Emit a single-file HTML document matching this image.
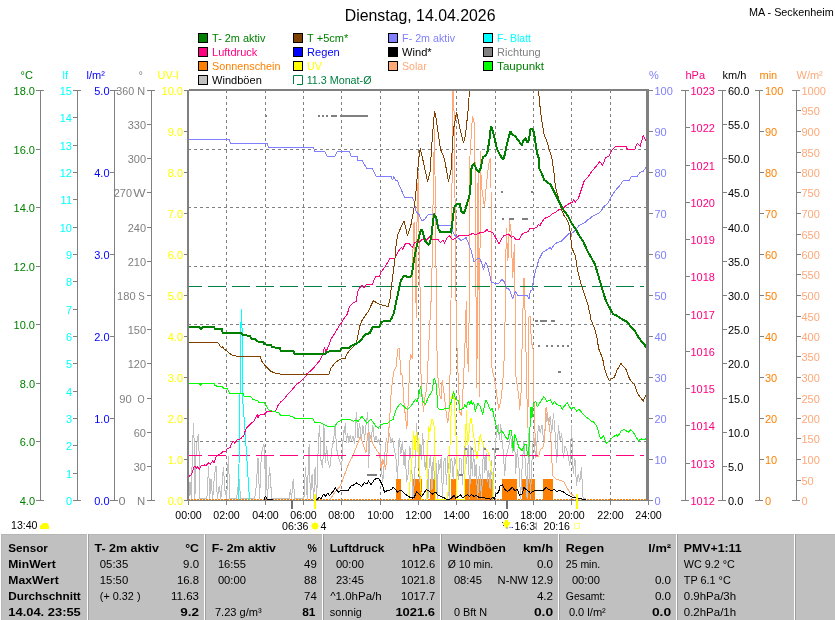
<!DOCTYPE html>
<html><head><meta charset="utf-8"><title>Wetter Dienstag, 14.04.2026</title>
<style>html,body{margin:0;padding:0;background:#fff;width:835px;height:620px;overflow:hidden}svg{display:block}text{white-space:pre}</style>
</head><body>
<svg width="835" height="620" viewBox="0 0 835 620" font-family="'Liberation Sans', Arial, sans-serif" font-size="11">
<defs><clipPath id="pc"><rect x="189" y="91" width="457" height="409.5"/></clipPath></defs>
<rect width="835" height="620" fill="#fff"/>
<line x1="226.5" y1="90" x2="226.5" y2="500" stroke="#808080" stroke-dasharray="3,3"/>
<line x1="265.5" y1="90" x2="265.5" y2="500" stroke="#808080" stroke-dasharray="3,3"/>
<line x1="303.5" y1="90" x2="303.5" y2="500" stroke="#808080" stroke-dasharray="3,3"/>
<line x1="341.5" y1="90" x2="341.5" y2="500" stroke="#808080" stroke-dasharray="3,3"/>
<line x1="380.5" y1="90" x2="380.5" y2="500" stroke="#808080" stroke-dasharray="3,3"/>
<line x1="418.5" y1="90" x2="418.5" y2="500" stroke="#808080" stroke-dasharray="3,3"/>
<line x1="456.5" y1="90" x2="456.5" y2="500" stroke="#808080" stroke-dasharray="3,3"/>
<line x1="495.5" y1="90" x2="495.5" y2="500" stroke="#808080" stroke-dasharray="3,3"/>
<line x1="533.5" y1="90" x2="533.5" y2="500" stroke="#808080" stroke-dasharray="3,3"/>
<line x1="571.5" y1="90" x2="571.5" y2="500" stroke="#808080" stroke-dasharray="3,3"/>
<line x1="610.5" y1="90" x2="610.5" y2="500" stroke="#808080" stroke-dasharray="3,3"/>
<line x1="188" y1="149.5" x2="646" y2="149.5" stroke="#808080" stroke-dasharray="3,3"/>
<line x1="188" y1="207.5" x2="646" y2="207.5" stroke="#808080" stroke-dasharray="3,3"/>
<line x1="188" y1="266.5" x2="646" y2="266.5" stroke="#808080" stroke-dasharray="3,3"/>
<line x1="188" y1="324.5" x2="646" y2="324.5" stroke="#808080" stroke-dasharray="3,3"/>
<line x1="188" y1="383.5" x2="646" y2="383.5" stroke="#808080" stroke-dasharray="3,3"/>
<line x1="188" y1="441.5" x2="646" y2="441.5" stroke="#808080" stroke-dasharray="3,3"/>
<g clip-path="url(#pc)" shape-rendering="crispEdges">
<line x1="188" y1="499.5" x2="646" y2="499.5" stroke="#ff8000" stroke-dasharray="1.5,1.5"/>
<rect x="396.3" y="479" width="4.9" height="21" fill="#ff8000"/>
<rect x="412.2" y="479" width="9.3" height="21" fill="#ff8000"/>
<rect x="430.3" y="479" width="5.9" height="21" fill="#ff8000"/>
<rect x="451.4" y="479" width="5.0" height="21" fill="#ff8000"/>
<rect x="465.0" y="479" width="27.9" height="21" fill="#ff8000"/>
<rect x="502.2" y="479" width="14.4" height="21" fill="#ff8000"/>
<rect x="521.7" y="479" width="13.0" height="21" fill="#ff8000"/>
<rect x="543.2" y="479" width="9.7" height="21" fill="#ff8000"/>
<polyline points="188.8,498.8 190.0,482.3 191.3,498.8 192.6,441.2 193.8,423.0 194.9,498.8 196.2,449.4 197.5,437.9 198.7,433.7 199.9,498.8 204.5,498.8 206.9,498.8 208.6,465.8 209.7,498.8 211.0,479.0 212.7,498.8 214.3,477.4 216.0,465.8 217.3,498.8 219.3,485.6 220.9,498.8 223.4,467.5 225.0,490.5 226.7,498.8 228.3,456.0 230.0,498.8 231.6,498.8 234.1,498.8 236.6,498.8 239.0,479.0 240.7,498.8 254.7,498.8 256.3,485.6 258.0,457.6 259.6,498.8 261.3,454.3 262.9,447.7 263.7,444.4 264.5,446.1 265.7,498.8 266.0,456.0 267.3,498.8 269.6,467.5 271.8,498.8 289.0,498.8 290.4,488.9 291.5,498.8 293.2,479.0 294.8,498.8 303.9,498.8 305.5,467.5 307.2,498.8 309.1,444.4 310.4,498.8 312.1,474.1 313.7,498.8 315.1,467.5 316.7,498.8 318.3,444.4 319.5,424.7 321.1,462.6 322.8,467.5 323.9,424.7 325.3,462.6 326.6,446.1 328.2,462.6 329.9,467.5 331.8,449.4 333.5,441.2 335.1,426.3 336.8,449.4 338.4,457.6 340.1,462.6 341.7,467.5 343.4,432.9 345.8,423.0 344.0,432.9 345.3,424.7 346.5,442.8 347.6,432.9 348.9,442.8 350.3,434.6 351.4,441.2 353.1,436.2 354.7,444.4 356.3,412.3 358.0,437.9 359.6,423.0 361.3,441.2 362.9,424.7 364.6,439.5 366.2,423.0 367.9,412.3 368.7,467.5 369.5,432.9 371.2,439.5 372.8,424.7 374.5,441.2 376.1,436.2 377.7,442.8 378.9,439.5 380.2,446.1 381.5,469.1 382.7,482.3 383.8,469.1 385.2,449.4 386.5,437.9 387.6,446.1 389.3,432.9 390.9,442.8 392.6,437.9 394.2,449.4 395.9,457.6 397.5,479.0 399.1,437.9 400.8,454.3 402.4,441.2 404.1,465.8 405.2,449.4 406.6,482.3 408.2,474.1 409.8,446.1 411.5,462.6 413.1,498.8 414.8,474.1 416.4,423.0 418.1,449.4 419.7,482.3 420.0,444.0 421.3,460.0 422.6,433.0 424.0,455.0 425.3,470.0 426.6,455.0 428.0,499.0 429.3,460.0 430.6,456.0 432.0,490.0 433.2,457.0 434.5,480.0 435.8,457.0 437.2,499.0 438.5,460.0 439.8,470.0 441.2,457.0 442.5,499.0 443.8,462.0 445.2,458.0 446.5,485.0 447.8,456.0 449.1,499.0 450.5,460.0 451.8,458.0 453.2,480.0 454.5,457.0 455.8,463.0 457.2,470.0 458.5,480.0 459.8,458.0 461.2,459.0 462.5,485.0 463.8,458.0 465.0,446.5 466.3,463.7 468.3,445.1 469.6,499.4 471.0,446.5 472.3,475.6 473.6,450.4 474.9,476.9 476.2,463.7 477.6,499.4 479.6,466.3 481.5,499.4 483.5,446.5 484.8,472.9 486.2,453.1 487.5,482.2 488.8,470.3 490.1,488.8 491.5,459.7 492.8,499.4 494.1,466.3 495.4,442.5 496.7,433.2 498.1,424.0 499.4,439.8 500.7,424.0 502.0,439.8 503.4,453.1 504.7,475.6 506.0,457.0 508.7,446.5 510.6,435.9 512.6,453.1 514.6,437.2 515.6,474.0 517.3,449.4 518.9,465.8 520.6,498.7 522.2,465.8 523.9,441.1 525.5,465.8 527.1,498.7 528.8,432.9 530.4,498.7 532.1,457.6 533.7,432.9 535.4,457.6 537.0,441.1 538.7,424.7 540.3,432.9 542.0,424.7 543.6,441.1 545.2,429.6 546.9,413.2 548.5,424.7 550.2,416.5 551.8,432.9 553.5,413.2 555.1,432.9 556.8,462.5 558.4,424.7 560.1,441.1 561.7,432.9 563.3,457.6 565.0,446.1 566.6,449.4 568.3,457.6 569.9,465.8 571.6,424.7 573.2,474.0 574.9,457.6 576.5,485.6 578.2,474.0 579.8,482.3 581.4,467.5 583.1,498.7 585.6,498.7" fill="none" stroke="#c0c0c0" stroke-width="1" stroke-linejoin="miter" stroke-miterlimit="2"/>
<polyline points="330.0,499.5 335.5,491.4 340.6,485.5 344.0,476.2 349.1,462.6 352.5,456.7 357.5,444.0 360.1,437.2 361.8,440.6 366.0,452.5 367.7,433.9 369.4,433.0 372.8,444.0 377.0,450.8 379.6,454.2 381.2,469.4 382.9,459.2 385.6,469.6 388.3,438.1 390.2,410.3 391.3,390.0 393.7,371.9 396.1,367.0 397.7,349.3 399.4,348.5 400.2,363.8 401.0,375.1 401.8,373.5 402.6,379.9 404.1,404.7 406.9,428.8 407.8,410.3 408.8,388.0 409.8,362.2 410.6,354.1 412.3,359.0 412.5,292.0 413.3,224.0 414.6,222.0 415.2,270.0 416.4,318.0 417.1,209.0 418.4,172.0 419.2,250.0 419.8,271.0 420.6,330.0 421.1,383.2 422.7,402.8 423.6,412.1 424.5,399.1 426.8,388.0 428.4,352.5 430.8,304.1 431.6,294.5 433.4,180.0 434.5,129.0 435.5,220.0 436.5,313.8 437.3,371.9 438.1,378.3 439.7,395.0 441.2,399.1 442.1,380.0 443.7,390.0 445.9,410.3 447.7,423.3 449.6,406.6 451.0,300.9 452.3,150.0 452.8,85.0 453.6,85.0 454.5,141.0 455.8,288.0 456.6,336.4 457.4,359.0 459.8,412.1 461.6,415.8 462.6,397.3 464.7,354.1 466.3,300.9 467.1,354.1 468.7,371.9 469.5,250.0 470.0,155.7 471.6,129.9 472.4,116.2 474.0,121.9 474.8,152.5 475.6,188.0 476.1,321.9 476.9,387.7 477.5,250.0 478.1,171.9 478.9,260.0 479.4,396.6 480.0,250.0 480.5,150.9 481.3,188.0 482.1,190.0 484.5,207.4 486.1,188.0 488.5,165.4 490.2,158.2 491.0,188.0 491.8,367.0 493.4,375.1 494.7,379.7 498.7,409.5 501.1,399.0 502.7,382.9 503.9,363.8 504.7,344.5 505.5,288.0 506.3,228.3 507.9,260.6 509.5,220.3 511.1,231.5 512.7,278.3 514.4,244.5 515.2,309.0 516.0,376.7 518.9,397.4 519.7,409.5 521.3,389.4 522.4,326.7 524.0,278.0 525.6,328.3 526.5,380.0 526.9,394.2 527.7,428.1 528.5,374.8 528.9,317.0 530.5,316.2 531.3,344.5 532.9,344.5 533.7,371.9 534.2,418.4 535.4,439.5 537.0,456.8 538.7,455.9 540.3,449.4 542.8,447.7 544.4,441.1 546.1,406.6 547.7,416.5 549.4,426.3 551.0,441.1 552.6,475.7 555.9,479.0 560.9,480.6 564.2,482.3 567.5,488.8 570.7,493.8 574.0,496.2 577.3,498.7 580.0,499.5" fill="none" stroke="#ffa878" stroke-width="1" stroke-linejoin="miter" stroke-miterlimit="2"/>
<polyline points="409.0,500.0 410.0,482.0 411.5,465.0 412.5,451.0 413.4,430.6 414.2,437.0 415.0,450.0 415.8,436.0 416.6,432.0 417.6,452.0 418.4,438.0 419.5,470.0 420.5,482.0 421.5,500.0 426.0,500.0 427.0,480.0 428.0,440.0 428.8,426.4 429.8,432.2 431.0,424.0 432.2,418.7 433.2,421.6 434.2,427.4 434.7,440.0 435.5,482.0 436.0,500.0 447.7,499.3 450.5,434.4 451.5,398.0 452.7,393.6 454.2,399.1 456.1,438.1 457.0,499.3 464.4,499.3 466.3,410.3 467.5,445.0 468.3,440.0 470.5,418.4 471.3,418.4 472.9,431.3 475.3,445.8 476.9,458.7 478.5,447.4 480.2,434.5 481.8,440.9 484.2,447.4 488.2,452.3 489.8,460.3 491.5,468.4 493.0,480.0 494.0,499.3" fill="none" stroke="#ffff00" stroke-width="1" stroke-linejoin="miter" stroke-miterlimit="2"/>
<line x1="184" y1="286.5" x2="644" y2="286.5" stroke="#008040" stroke-dasharray="18,6"/>
<rect x="189" y="455" width="13" height="1" fill="#ff0080"/>
<rect x="208" y="455" width="18" height="1" fill="#ff0080"/>
<rect x="232" y="455" width="18" height="1" fill="#ff0080"/>
<rect x="256" y="455" width="18" height="1" fill="#ff0080"/>
<rect x="280" y="455" width="18" height="1" fill="#ff0080"/>
<rect x="304" y="455" width="42" height="1" fill="#ff0080"/>
<rect x="352" y="455" width="18" height="1" fill="#ff0080"/>
<rect x="376" y="455" width="18" height="1" fill="#ff0080"/>
<rect x="400" y="455" width="42" height="1" fill="#ff0080"/>
<rect x="448" y="455" width="42" height="1" fill="#ff0080"/>
<rect x="496" y="455" width="18" height="1" fill="#ff0080"/>
<rect x="520" y="455" width="18" height="1" fill="#ff0080"/>
<rect x="544" y="455" width="42" height="1" fill="#ff0080"/>
<rect x="592" y="455" width="18" height="1" fill="#ff0080"/>
<rect x="616" y="455" width="18" height="1" fill="#ff0080"/>
<rect x="640" y="455" width="4" height="1" fill="#ff0080"/>
<polyline points="188.0,139.3 229.0,139.3 230.5,143.4 267.0,143.4 268.5,147.4 313.6,147.4 314.5,151.9 325.0,151.9 327.0,156.1 335.0,156.1 337.0,151.9 349.5,151.9 351.0,156.1 357.0,156.1 358.0,160.5 362.0,160.5 366.8,168.3 372.0,168.3 376.4,176.5 391.0,176.5 392.5,180.0 393.9,176.5 396.0,181.0 397.0,180.0 404.5,197.3 412.3,197.3 413.9,200.9 416.3,212.2 418.7,213.8 421.9,221.1 424.4,219.5 428.4,214.6 434.0,213.8 435.6,220.3 438.9,225.5 451.0,225.5 453.4,233.0 455.8,236.6 459.0,238.5 461.3,240.6 466.1,237.7 468.1,242.6 471.0,250.3 473.9,261.9 476.8,259.0 479.7,258.1 482.6,265.8 483.5,269.7 485.5,261.9 487.4,265.8 489.4,273.5 491.3,282.3 495.2,283.2 499.0,283.2 501.9,279.4 503.9,281.3 506.8,288.1 509.5,289.6 512.7,299.3 515.2,291.2 517.6,295.3 527.3,295.3 528.9,299.3 530.5,290.4 531.9,291.0 532.9,283.2 534.8,273.5 536.8,266.8 538.7,260.0 542.6,252.3 544.5,251.3 547.4,249.4 550.3,247.4 551.3,249.4 554.2,244.5 557.1,242.6 561.0,241.6 563.9,238.7 565.8,236.8 568.7,233.9 572.6,232.9 576.4,229.0 578.4,226.1 581.3,224.2 585.2,222.3 587.1,220.3 590.0,218.4 591.9,216.5 595.8,214.5 598.7,213.5 600.6,211.6 602.6,208.7 604.5,205.8 607.4,203.9 609.3,200.3 613.2,193.5 616.1,189.6 619.0,186.7 622.9,180.9 629.7,180.5 630.6,177.0 637.4,176.1 640.3,172.2 643.2,171.2 646.1,167.4" fill="none" stroke="#8080ff" stroke-width="1" stroke-linejoin="miter" stroke-miterlimit="2"/>
<polyline points="238.5,500.0 239.5,430.0 241.2,309.0 242.1,330.0 242.7,400.0 245.0,430.0 249.5,500.0" fill="none" stroke="#00ffff" stroke-width="1" stroke-linejoin="miter" stroke-miterlimit="2"/>
<polyline points="188.0,478.2 189.6,475.7 191.3,474.9 192.9,470.0 194.6,465.8 196.2,468.3 197.9,466.7 199.5,469.1 201.2,465.8 204.5,465.0 206.1,465.8 208.6,462.6 210.2,464.2 212.7,460.9 214.3,462.6 216.0,456.8 217.6,455.1 220.9,453.5 222.6,451.9 225.9,451.0 227.5,448.6 230.0,447.7 231.6,443.6 233.3,441.2 234.9,443.6 236.6,440.3 238.2,439.5 240.7,438.7 242.3,437.0 244.0,435.4 244.8,432.1 246.4,428.0 248.1,426.3 249.7,424.7 251.4,423.0 253.0,422.2 254.7,419.8 256.3,416.5 257.1,414.5 258.0,418.1 258.8,415.6 261.3,414.0 264.5,414.0 267.0,411.5 268.9,411.0 270.6,411.8 275.7,411.0 278.2,405.1 280.8,401.7 283.3,400.0 284.7,398.1 288.6,393.2 292.4,389.4 296.3,384.5 299.2,382.6 302.1,379.7 306.0,375.8 306.8,373.9 310.6,371.0 313.5,368.1 317.4,363.2 320.3,359.9 323.2,353.5 324.2,347.7 326.1,351.6 329.0,344.8 331.0,339.0 334.8,333.2 338.7,326.5 341.6,322.6 344.5,317.7 347.4,313.9 348.4,310.0 349.4,306.4 353.2,302.6 356.1,301.6 358.1,290.0 361.9,285.2 363.9,288.1 366.8,284.2 372.6,284.2 375.5,276.4 379.4,276.4 381.3,271.6 385.2,266.8 390.0,258.1 394.8,258.1 396.8,254.2 399.7,249.4 401.6,247.4 402.6,249.4 405.5,243.5 409.3,243.5 412.3,247.4 414.7,242.8 417.1,241.2 419.5,242.0 421.9,239.6 426.0,240.4 430.0,236.4 431.6,239.6 438.1,239.6 440.5,242.8 442.9,240.4 444.5,242.8 446.9,238.0 449.4,235.6 451.0,238.0 452.6,239.6 455.8,238.0 459.0,235.6 465.5,235.6 470.3,234.8 472.7,233.2 475.2,234.8 478.4,233.2 482.9,232.4 485.3,231.5 486.9,229.1 488.5,231.5 492.6,232.4 495.0,236.4 496.6,239.6 499.0,243.6 501.5,238.8 503.9,235.6 506.3,234.8 509.5,234.8 511.1,237.2 513.5,236.4 516.0,239.6 519.2,239.6 521.6,234.8 523.2,233.2 525.6,232.4 528.1,231.5 530.0,228.1 533.9,228.6 536.8,227.1 538.7,224.2 539.7,226.1 541.6,222.3 544.5,218.4 549.4,216.5 551.3,214.5 555.2,212.6 559.0,209.7 562.9,208.7 565.8,205.8 568.7,203.9 572.6,201.9 573.5,200.0 575.5,201.9 578.4,198.3 584.2,180.9 588.1,177.0 591.9,171.2 597.7,164.4 599.7,161.5 602.6,165.4 605.5,157.7 609.3,155.7 611.3,150.9 616.1,146.1 625.8,146.1 627.7,149.9 634.5,149.9 637.4,143.2 640.3,146.1 643.2,135.4 646.1,141.2" fill="none" stroke="#ff0080" stroke-width="1" stroke-linejoin="miter" stroke-miterlimit="2"/>
<polyline points="187.9,383.2 199.5,383.2 200.5,385.9 201.5,383.5 214.1,383.5 215.0,385.9 221.8,386.4 223.7,388.4 227.6,389.0 229.5,393.2 243.1,393.6 244.1,396.1 250.8,396.7 252.8,399.4 257.6,400.6 258.6,402.5 264.4,402.9 267.3,407.7 269.2,410.6 275.0,411.6 278.9,413.0 280.8,415.5 291.5,416.1 293.4,417.4 295.3,418.4 312.6,418.4 314.5,422.3 319.4,422.3 327.1,426.1 334.8,426.1 337.7,422.3 341.6,419.9 344.5,419.3 350.3,419.3 353.2,421.3 356.1,420.3 358.1,421.3 361.9,416.4 364.8,420.3 366.8,423.2 370.6,419.3 372.6,421.3 375.5,426.1 378.4,428.1 381.3,424.2 388.1,423.2 391.0,420.3 393.0,419.5 395.8,410.3 398.6,405.6 400.4,403.8 403.2,405.6 406.0,408.4 407.8,409.3 410.6,406.6 413.4,402.8 415.3,399.1 417.1,401.9 419.0,393.6 420.6,386.4 422.6,401.0 425.5,404.8 428.2,397.3 431.9,391.7 434.2,377.7 436.1,383.5 438.1,408.7 441.0,409.7 444.8,408.7 448.7,408.7 451.6,401.0 453.5,391.3 455.5,399.0 458.4,401.0 460.0,409.5 463.2,408.7 464.8,404.7 466.5,407.9 467.3,403.1 468.9,401.5 469.7,404.7 471.3,400.6 472.1,404.7 473.7,402.3 475.3,411.9 477.7,403.1 480.2,406.3 482.6,414.4 485.8,399.8 488.2,404.7 490.6,410.3 492.3,407.9 494.7,420.0 497.9,432.1 499.5,433.7 501.9,430.5 505.2,436.1 507.6,440.2 510.0,430.5 511.6,430.5 513.2,450.6 514.8,434.5 516.5,439.4 518.9,447.4 522.1,450.6 524.5,445.0 526.1,444.2 527.7,455.5 528.5,457.1 530.2,423.2 531.0,407.1 531.8,418.4 533.4,403.9 535.8,401.5 537.4,407.1 540.6,401.5 543.9,396.6 547.1,401.5 550.3,399.8 552.7,404.7 554.4,401.5 556.8,404.7 560.0,405.5 562.2,409.3 563.9,406.8 567.2,402.5 570.6,408.5 574.0,407.6 576.5,411.0 579.1,409.3 582.5,413.5 585.9,416.9 588.4,418.6 591.0,421.2 593.5,422.0 596.9,426.2 599.4,435.5 601.1,438.9 603.6,435.5 606.2,443.2 609.6,440.6 613.0,437.2 616.3,434.7 618.0,436.4 621.4,430.5 624.8,429.6 628.2,432.2 630.7,429.6 633.2,432.2 638.3,440.6 641.7,438.9 645.1,439.8 646.8,436.4" fill="none" stroke="#00ff00" stroke-width="1" stroke-linejoin="miter" stroke-miterlimit="2"/>
<polyline points="316.0,499.5 316.9,499.5 319.5,497.3 321.2,499.0 323.7,493.9 325.4,496.5 327.9,493.1 329.6,495.6 333.0,491.4 335.5,488.0 338.1,492.2 340.6,490.6 342.3,490.6 348.2,490.6 350.8,486.3 354.2,484.6 356.7,482.9 359.2,484.6 361.8,486.3 364.3,482.9 366.9,483.8 368.6,481.2 371.1,484.6 374.5,479.6 377.0,477.9 379.6,479.6 382.1,484.6 384.6,492.2 387.2,490.6 391.4,489.7 393.1,487.2 395.0,489.0 397.5,492.0 399.5,490.5 402.0,491.0 405.0,494.0 408.0,496.0 410.0,497.5 412.5,498.0 414.5,497.0 416.5,491.5 419.0,494.0 421.5,496.5 424.0,493.0 426.5,489.5 429.0,491.0 430.5,492.5 432.5,494.0 434.5,492.5 436.0,492.0 437.5,494.5 440.0,496.0 442.0,497.0 444.0,497.5 445.0,498.8 449.2,499.6 451.6,497.9 454.1,495.5 455.7,497.9 457.4,497.1 459.0,496.3 460.7,494.7 462.3,497.9 464.8,496.3 467.3,494.7 469.7,496.3 471.4,494.7 473.9,496.3 476.3,495.5 478.8,497.1 481.3,497.9 483.7,497.1 485.4,498.4 487.8,498.8 491.1,499.1 492.8,497.1 494.4,498.8 496.1,493.8 497.7,493.0 499.4,489.7 500.0,485.6 502.5,484.7 504.9,489.7 507.4,491.3 509.9,489.7 512.3,487.2 514.8,490.5 517.3,489.7 519.7,495.4 522.2,493.8 523.9,487.2 526.3,489.7 528.8,491.3 530.4,493.8 532.9,491.3 536.2,490.5 542.8,490.5 546.1,487.2 547.7,488.8 549.4,489.7 551.8,490.5 554.3,489.7 556.8,491.3 559.2,490.5 562.5,491.3 565.8,493.8 569.1,495.4 572.4,497.1 575.7,497.9 579.0,498.7 585.6,499.5" fill="none" stroke="#000000" stroke-width="1" stroke-linejoin="miter" stroke-miterlimit="2"/>
<polyline points="264.0,499.5 264.7,497.3 265.6,496.5 267.2,499.0 273.2,499.5" fill="none" stroke="#000000" stroke-width="1" stroke-linejoin="miter" stroke-miterlimit="2"/>
<rect x="265.0" y="114.7" width="1.6" height="2" fill="#808080"/>
<rect x="318.0" y="114.7" width="1.6" height="2" fill="#808080"/>
<rect x="322.0" y="114.7" width="1.6" height="2" fill="#808080"/>
<rect x="326.0" y="114.7" width="1.6" height="2" fill="#808080"/>
<rect x="331.0" y="114.7" width="6.0" height="2" fill="#808080"/>
<rect x="340.0" y="114.7" width="28.0" height="2" fill="#808080"/>
<rect x="501.0" y="191.0" width="1.6" height="2" fill="#808080"/>
<rect x="531.0" y="191.0" width="1.6" height="2" fill="#808080"/>
<rect x="502.3" y="217.7" width="1.6" height="2" fill="#808080"/>
<rect x="508.7" y="217.7" width="5.7" height="2" fill="#808080"/>
<rect x="521.6" y="217.7" width="6.5" height="2" fill="#808080"/>
<rect x="534.5" y="320.0" width="3.2" height="2" fill="#808080"/>
<rect x="540.2" y="320.0" width="6.4" height="2" fill="#808080"/>
<rect x="550.6" y="320.0" width="4.1" height="2" fill="#808080"/>
<rect x="538.0" y="344.7" width="1.6" height="2" fill="#808080"/>
<rect x="546.0" y="344.7" width="1.6" height="2" fill="#808080"/>
<rect x="551.0" y="344.7" width="1.6" height="2" fill="#808080"/>
<rect x="557.0" y="344.7" width="1.6" height="2" fill="#808080"/>
<rect x="562.0" y="344.7" width="1.6" height="2" fill="#808080"/>
<rect x="567.0" y="344.7" width="1.6" height="2" fill="#808080"/>
<rect x="558.0" y="371.0" width="2.5" height="2" fill="#808080"/>
<rect x="465.0" y="447.8" width="1.6" height="2" fill="#808080"/>
<rect x="471.0" y="447.8" width="1.6" height="2" fill="#808080"/>
<rect x="484.3" y="447.8" width="1.9" height="2" fill="#808080"/>
<rect x="492.0" y="447.8" width="1.6" height="2" fill="#808080"/>
<rect x="495.4" y="447.8" width="4.0" height="2" fill="#808080"/>
<rect x="459.0" y="473.5" width="3.5" height="2" fill="#808080"/>
<rect x="366.9" y="473.8" width="10.1" height="2" fill="#808080"/>
<polyline points="187.9,342.5 217.9,342.5 219.9,345.8 221.8,347.7 222.8,346.4 223.7,348.7 227.6,351.6 232.4,355.5 238.3,356.4 260.5,356.4 261.5,360.7 265.4,366.1 271.2,371.5 275.0,372.9 280.8,374.3 329.0,374.3 331.0,368.1 333.9,364.2 337.7,360.7 341.6,358.8 345.5,358.0 346.4,354.5 350.3,349.7 355.2,344.8 357.1,340.0 358.1,334.2 360.0,325.5 361.9,320.6 365.8,314.8 367.7,312.3 373.5,300.6 377.4,303.5 383.2,305.5 388.1,306.4 390.0,298.7 391.3,288.0 393.7,268.6 395.3,255.7 396.1,244.5 397.7,234.8 400.2,229.1 401.8,225.1 404.2,221.1 405.8,228.3 407.4,235.6 409.0,230.7 410.6,226.7 413.1,213.8 414.7,204.1 415.5,196.1 416.3,188.0 418.7,159.0 420.3,148.5 422.7,159.0 427.6,181.5 430.0,171.9 432.4,136.4 434.5,110.6 435.6,115.4 440.5,149.3 444.5,159.0 448.5,181.5 451.0,170.3 453.4,129.9 456.6,112.2 458.2,120.3 460.6,131.5 463.5,142.8 465.5,134.8 467.9,112.2 469.5,91.2 471.0,60.0 537.0,60.0 538.5,89.6 539.4,100.9 541.0,115.4 542.6,125.1 544.2,134.8 547.4,142.8 549.4,150.0 551.3,155.7 552.3,160.6 553.9,171.9 555.5,187.2 557.9,196.1 559.5,202.5 561.9,210.6 563.9,215.5 566.8,219.4 568.7,223.2 570.6,234.8 571.6,247.4 575.5,256.1 577.4,269.7 581.3,285.2 585.2,296.8 588.1,305.5 590.0,314.2 591.0,319.7 594.8,329.4 596.8,337.1 598.7,348.7 602.6,358.4 604.5,368.1 607.4,376.8 609.3,380.6 611.3,378.7 614.2,377.7 617.1,370.0 621.0,363.2 622.9,366.1 625.8,369.0 628.7,376.8 630.6,380.6 634.5,384.5 637.4,393.2 640.3,397.1 643.2,401.0 645.1,397.1 646.1,395.2" fill="none" stroke="#804000" stroke-width="1" stroke-linejoin="miter" stroke-miterlimit="2"/>
<polyline points="187.9,327.0 199.5,327.0 201.1,329.0 202.5,327.0 214.1,327.0 215.0,329.4 221.8,329.4 222.8,332.8 240.2,332.8 243.1,334.8 249.9,336.1 251.8,338.6 255.7,339.4 256.6,341.4 263.4,341.9 264.4,344.4 271.2,344.8 272.1,347.4 279.9,347.7 280.8,350.6 293.4,351.0 294.4,353.5 325.2,353.5 327.1,351.6 339.7,351.0 341.6,348.3 349.4,347.7 351.3,345.8 356.1,343.9 360.0,341.0 365.8,334.2 369.7,333.2 372.6,327.4 379.4,327.0 381.3,321.6 390.0,321.0 391.9,317.7 393.9,312.9 394.8,308.4 397.7,294.8 400.6,281.3 403.5,276.4 405.5,275.9 408.4,277.4 411.3,276.4 412.3,271.6 414.2,258.1 417.1,244.5 419.5,234.8 421.1,229.1 422.7,231.5 425.2,241.2 428.4,244.5 430.0,242.8 431.6,234.8 432.4,226.7 434.0,213.8 436.5,218.6 438.1,228.3 440.5,232.4 444.5,232.4 446.1,231.5 451.0,232.4 452.6,220.3 454.2,207.4 456.6,204.1 459.8,204.1 461.5,212.2 463.9,213.0 465.5,209.0 467.9,200.9 469.5,195.3 470.3,188.0 471.6,167.0 474.0,163.8 476.5,169.5 478.9,171.9 480.5,168.6 482.9,157.4 486.1,154.9 487.7,150.9 489.4,139.6 491.0,125.9 492.6,130.7 494.2,136.4 496.6,147.7 499.0,153.3 503.1,159.8 504.7,154.9 507.1,143.6 510.3,131.5 512.7,134.8 515.2,136.4 518.4,140.4 521.6,145.3 523.2,141.2 525.6,138.0 527.3,142.8 528.9,139.6 530.5,129.1 532.1,129.1 533.7,131.5 535.3,141.2 536.9,152.5 538.5,157.4 539.4,168.6 541.8,173.5 544.2,179.9 547.4,182.4 550.6,184.8 552.3,188.0 554.7,192.8 557.9,199.3 560.3,204.1 562.7,209.0 565.2,212.2 568.7,217.4 571.6,223.2 575.5,229.0 579.4,235.8 583.2,241.6 588.1,252.3 594.8,263.9 597.7,273.5 601.6,287.1 605.5,299.7 609.3,307.4 613.2,314.2 616.1,315.2 619.0,317.1 622.9,319.7 626.8,321.6 630.6,326.5 634.5,330.3 638.4,337.1 641.3,341.0 644.2,343.9 646.1,347.7" fill="none" stroke="#008000" stroke-width="2" stroke-linejoin="miter" stroke-miterlimit="2"/>
</g>
<rect x="187" y="90" width="2" height="411" fill="#808080"/>
<rect x="189" y="89" width="459" height="2" fill="#808080"/>
<rect x="646" y="89" width="3" height="412" fill="#808080"/>
<rect x="184" y="500" width="465" height="1" fill="#808080"/>
<rect x="188" y="500" width="1" height="5" fill="#808080"/>
<text x="188.5" y="518.5" fill="#000" text-anchor="middle" font-size="10.6">00:00</text>
<rect x="226" y="500" width="1" height="5" fill="#808080"/>
<text x="226.5" y="518.5" fill="#000" text-anchor="middle" font-size="10.6">02:00</text>
<rect x="265" y="500" width="1" height="5" fill="#808080"/>
<text x="265.5" y="518.5" fill="#000" text-anchor="middle" font-size="10.6">04:00</text>
<rect x="303" y="500" width="1" height="5" fill="#808080"/>
<text x="303.5" y="518.5" fill="#000" text-anchor="middle" font-size="10.6">06:00</text>
<rect x="341" y="500" width="1" height="5" fill="#808080"/>
<text x="341.5" y="518.5" fill="#000" text-anchor="middle" font-size="10.6">08:00</text>
<rect x="380" y="500" width="1" height="5" fill="#808080"/>
<text x="380.5" y="518.5" fill="#000" text-anchor="middle" font-size="10.6">10:00</text>
<rect x="418" y="500" width="1" height="5" fill="#808080"/>
<text x="418.5" y="518.5" fill="#000" text-anchor="middle" font-size="10.6">12:00</text>
<rect x="456" y="500" width="1" height="5" fill="#808080"/>
<text x="456.5" y="518.5" fill="#000" text-anchor="middle" font-size="10.6">14:00</text>
<rect x="495" y="500" width="1" height="5" fill="#808080"/>
<text x="495.5" y="518.5" fill="#000" text-anchor="middle" font-size="10.6">16:00</text>
<rect x="533" y="500" width="1" height="5" fill="#808080"/>
<text x="533.5" y="518.5" fill="#000" text-anchor="middle" font-size="10.6">18:00</text>
<rect x="571" y="500" width="1" height="5" fill="#808080"/>
<text x="571.5" y="518.5" fill="#000" text-anchor="middle" font-size="10.6">20:00</text>
<rect x="610" y="500" width="1" height="5" fill="#808080"/>
<text x="610.5" y="518.5" fill="#000" text-anchor="middle" font-size="10.6">22:00</text>
<rect x="648" y="500" width="1" height="5" fill="#808080"/>
<text x="648.5" y="518.5" fill="#000" text-anchor="middle" font-size="10.6">24:00</text>
<text x="344.7" y="20.7" fill="#000" font-size="15.7" textLength="150.8" lengthAdjust="spacingAndGlyphs">Dienstag, 14.04.2026</text>
<text x="748.9" y="15.8" fill="#000" font-size="10.6" textLength="84.8" lengthAdjust="spacingAndGlyphs">MA - Seckenheim</text>
<rect x="198.5" y="33.5" width="9" height="9" fill="#008000" stroke="#000" stroke-width="1"/>
<text x="212.1" y="42" fill="#008000" textLength="53.3" lengthAdjust="spacingAndGlyphs">T- 2m aktiv</text>
<rect x="198.5" y="47.5" width="9" height="9" fill="#ff0080" stroke="#000" stroke-width="1"/>
<text x="212.1" y="56" fill="#ff0080" textLength="45.2" lengthAdjust="spacingAndGlyphs">Luftdruck</text>
<rect x="198.5" y="61.5" width="9" height="9" fill="#ff8000" stroke="#000" stroke-width="1"/>
<text x="212.1" y="70" fill="#ff8000" textLength="68.4" lengthAdjust="spacingAndGlyphs">Sonnenschein</text>
<rect x="198.5" y="75.5" width="9" height="9" fill="#c0c0c0" stroke="#000" stroke-width="1"/>
<text x="212.1" y="84" fill="#000" textLength="49.7" lengthAdjust="spacingAndGlyphs">Windböen</text>
<rect x="293.5" y="33.5" width="9" height="9" fill="#804000" stroke="#000" stroke-width="1"/>
<text x="307.1" y="42" fill="#008000" textLength="41.2" lengthAdjust="spacingAndGlyphs">T +5cm*</text>
<rect x="293.5" y="47.5" width="9" height="9" fill="#0000ff" stroke="#000" stroke-width="1"/>
<text x="307.1" y="56" fill="#0000ff" textLength="32.6" lengthAdjust="spacingAndGlyphs">Regen</text>
<rect x="293.5" y="61.5" width="9" height="9" fill="#ffff00" stroke="#000" stroke-width="1"/>
<text x="307.1" y="70" fill="#ffff00" textLength="14.9" lengthAdjust="spacingAndGlyphs">UV</text>
<rect x="388.5" y="33.5" width="9" height="9" fill="#8080ff" stroke="#000" stroke-width="1"/>
<text x="402.1" y="42" fill="#8080ff" textLength="52.9" lengthAdjust="spacingAndGlyphs">F- 2m aktiv</text>
<rect x="388.5" y="47.5" width="9" height="9" fill="#000000" stroke="#000" stroke-width="1"/>
<text x="402.1" y="56" fill="#000" textLength="29.6" lengthAdjust="spacingAndGlyphs">Wind*</text>
<rect x="388.5" y="61.5" width="9" height="9" fill="#ffa878" stroke="#000" stroke-width="1"/>
<text x="402.1" y="70" fill="#ffa878" textLength="24.6" lengthAdjust="spacingAndGlyphs">Solar</text>
<rect x="483.5" y="33.5" width="9" height="9" fill="#00ffff" stroke="#000" stroke-width="1"/>
<text x="497.1" y="42" fill="#00ffff" textLength="33.8" lengthAdjust="spacingAndGlyphs">F- Blatt</text>
<rect x="483.5" y="47.5" width="9" height="9" fill="#808080" stroke="#000" stroke-width="1"/>
<text x="497.1" y="56" fill="#808080" textLength="43.6" lengthAdjust="spacingAndGlyphs">Richtung</text>
<rect x="483.5" y="61.5" width="9" height="9" fill="#00ff00" stroke="#000" stroke-width="1"/>
<text x="497.1" y="70" fill="#008000" textLength="47.0" lengthAdjust="spacingAndGlyphs">Taupunkt</text>
<path d="M293.5 84 V75.5 H302.5 V84.5 H297" fill="none" stroke="#008040" stroke-width="1"/>
<text x="306.7" y="84" fill="#008040" textLength="64.8" lengthAdjust="spacingAndGlyphs">11.3 Monat-Ø</text>
<rect x="40" y="90" width="1" height="411" fill="#808080"/>
<rect x="36" y="90" width="8" height="1" fill="#808080"/>
<text x="35" y="94.5" fill="#008000" text-anchor="end">18.0</text>
<rect x="36" y="149" width="4" height="1" fill="#808080"/>
<text x="35" y="153.5" fill="#008000" text-anchor="end">16.0</text>
<rect x="36" y="207" width="4" height="1" fill="#808080"/>
<text x="35" y="211.5" fill="#008000" text-anchor="end">14.0</text>
<rect x="36" y="266" width="4" height="1" fill="#808080"/>
<text x="35" y="270.5" fill="#008000" text-anchor="end">12.0</text>
<rect x="36" y="324" width="4" height="1" fill="#808080"/>
<text x="35" y="328.5" fill="#008000" text-anchor="end">10.0</text>
<rect x="36" y="383" width="4" height="1" fill="#808080"/>
<text x="35" y="387.5" fill="#008000" text-anchor="end">8.0</text>
<rect x="36" y="441" width="4" height="1" fill="#808080"/>
<text x="35" y="445.5" fill="#008000" text-anchor="end">6.0</text>
<rect x="36" y="500" width="8" height="1" fill="#808080"/>
<text x="35" y="504.5" fill="#008000" text-anchor="end">4.0</text>
<text x="20.5" y="78.8" fill="#008000">°C</text>
<rect x="77" y="90" width="1" height="411" fill="#808080"/>
<rect x="73" y="90" width="8" height="1" fill="#808080"/>
<text x="72" y="94.5" fill="#00ffff" text-anchor="end">15</text>
<rect x="73" y="117" width="4" height="1" fill="#808080"/>
<text x="72" y="121.5" fill="#00ffff" text-anchor="end">14</text>
<rect x="73" y="145" width="4" height="1" fill="#808080"/>
<text x="72" y="149.5" fill="#00ffff" text-anchor="end">13</text>
<rect x="73" y="172" width="4" height="1" fill="#808080"/>
<text x="72" y="176.5" fill="#00ffff" text-anchor="end">12</text>
<rect x="73" y="199" width="4" height="1" fill="#808080"/>
<text x="72" y="203.5" fill="#00ffff" text-anchor="end">11</text>
<rect x="73" y="227" width="4" height="1" fill="#808080"/>
<text x="72" y="231.5" fill="#00ffff" text-anchor="end">10</text>
<rect x="73" y="254" width="4" height="1" fill="#808080"/>
<text x="72" y="258.5" fill="#00ffff" text-anchor="end">9</text>
<rect x="73" y="281" width="4" height="1" fill="#808080"/>
<text x="72" y="285.5" fill="#00ffff" text-anchor="end">8</text>
<rect x="73" y="309" width="4" height="1" fill="#808080"/>
<text x="72" y="313.5" fill="#00ffff" text-anchor="end">7</text>
<rect x="73" y="336" width="4" height="1" fill="#808080"/>
<text x="72" y="340.5" fill="#00ffff" text-anchor="end">6</text>
<rect x="73" y="363" width="4" height="1" fill="#808080"/>
<text x="72" y="367.5" fill="#00ffff" text-anchor="end">5</text>
<rect x="73" y="391" width="4" height="1" fill="#808080"/>
<text x="72" y="395.5" fill="#00ffff" text-anchor="end">4</text>
<rect x="73" y="418" width="4" height="1" fill="#808080"/>
<text x="72" y="422.5" fill="#00ffff" text-anchor="end">3</text>
<rect x="73" y="445" width="4" height="1" fill="#808080"/>
<text x="72" y="449.5" fill="#00ffff" text-anchor="end">2</text>
<rect x="73" y="473" width="4" height="1" fill="#808080"/>
<text x="72" y="477.5" fill="#00ffff" text-anchor="end">1</text>
<rect x="73" y="500" width="8" height="1" fill="#808080"/>
<text x="72" y="504.5" fill="#00ffff" text-anchor="end">0</text>
<text x="62.5" y="78.8" fill="#00ffff">lf</text>
<rect x="114" y="90" width="1" height="411" fill="#808080"/>
<rect x="110" y="90" width="8" height="1" fill="#808080"/>
<text x="109.5" y="94.5" fill="#0000ff" text-anchor="end">5.0</text>
<rect x="110" y="172" width="4" height="1" fill="#808080"/>
<text x="109.5" y="176.5" fill="#0000ff" text-anchor="end">4.0</text>
<rect x="110" y="254" width="4" height="1" fill="#808080"/>
<text x="109.5" y="258.5" fill="#0000ff" text-anchor="end">3.0</text>
<rect x="110" y="336" width="4" height="1" fill="#808080"/>
<text x="109.5" y="340.5" fill="#0000ff" text-anchor="end">2.0</text>
<rect x="110" y="418" width="4" height="1" fill="#808080"/>
<text x="109.5" y="422.5" fill="#0000ff" text-anchor="end">1.0</text>
<rect x="110" y="500" width="8" height="1" fill="#808080"/>
<text x="109.5" y="504.5" fill="#0000ff" text-anchor="end">0.0</text>
<text x="86.5" y="78.8" fill="#0000ff">l/m²</text>
<rect x="151" y="90" width="1" height="411" fill="#808080"/>
<rect x="147" y="90" width="8" height="1" fill="#808080"/>
<text x="146" y="94.5" fill="#808080" text-anchor="end"></text>
<rect x="147" y="124" width="4" height="1" fill="#808080"/>
<text x="146" y="128.5" fill="#808080" text-anchor="end">330</text>
<rect x="147" y="158" width="4" height="1" fill="#808080"/>
<text x="146" y="162.5" fill="#808080" text-anchor="end">300</text>
<rect x="147" y="192" width="4" height="1" fill="#808080"/>
<text x="146" y="196.5" fill="#808080" text-anchor="end"></text>
<rect x="147" y="227" width="4" height="1" fill="#808080"/>
<text x="146" y="231.5" fill="#808080" text-anchor="end">240</text>
<rect x="147" y="261" width="4" height="1" fill="#808080"/>
<text x="146" y="265.5" fill="#808080" text-anchor="end">210</text>
<rect x="147" y="295" width="4" height="1" fill="#808080"/>
<text x="146" y="299.5" fill="#808080" text-anchor="end"></text>
<rect x="147" y="329" width="4" height="1" fill="#808080"/>
<text x="146" y="333.5" fill="#808080" text-anchor="end">150</text>
<rect x="147" y="363" width="4" height="1" fill="#808080"/>
<text x="146" y="367.5" fill="#808080" text-anchor="end">120</text>
<rect x="147" y="398" width="4" height="1" fill="#808080"/>
<text x="146" y="402.5" fill="#808080" text-anchor="end"></text>
<rect x="147" y="432" width="4" height="1" fill="#808080"/>
<text x="146" y="436.5" fill="#808080" text-anchor="end">60</text>
<rect x="147" y="466" width="4" height="1" fill="#808080"/>
<text x="146" y="470.5" fill="#808080" text-anchor="end">30</text>
<rect x="147" y="500" width="8" height="1" fill="#808080"/>
<text x="146" y="504.5" fill="#808080" text-anchor="end"></text>
<text x="138.5" y="78.8" fill="#808080">°</text>
<text x="116.3" y="94.5" fill="#808080" textLength="17.9" lengthAdjust="spacingAndGlyphs">360</text>
<text x="137.3" y="94.5" fill="#808080" textLength="7.9" lengthAdjust="spacingAndGlyphs">N</text>
<text x="113.8" y="196.5" fill="#808080" textLength="18.2" lengthAdjust="spacingAndGlyphs">270</text>
<text x="133.3" y="196.5" fill="#808080" textLength="12.4" lengthAdjust="spacingAndGlyphs">W</text>
<text x="117.1" y="299.5" fill="#808080" textLength="18.5" lengthAdjust="spacingAndGlyphs">180</text>
<text x="138.3" y="299.5" fill="#808080" textLength="6.5" lengthAdjust="spacingAndGlyphs">S</text>
<text x="119.2" y="402.5" fill="#808080" textLength="12.5" lengthAdjust="spacingAndGlyphs">90</text>
<text x="137.4" y="402.5" fill="#808080" textLength="7.1" lengthAdjust="spacingAndGlyphs">O</text>
<text x="118.6" y="504.5" fill="#808080" textLength="7.1" lengthAdjust="spacingAndGlyphs">0</text>
<text x="137.0" y="504.5" fill="#808080" textLength="8.2" lengthAdjust="spacingAndGlyphs">N</text>
<rect x="184" y="90" width="4" height="1" fill="#808080"/>
<text x="183" y="94.5" fill="#ffff00" text-anchor="end">10.0</text>
<rect x="184" y="131" width="4" height="1" fill="#808080"/>
<text x="183" y="135.5" fill="#ffff00" text-anchor="end">9.0</text>
<rect x="184" y="172" width="4" height="1" fill="#808080"/>
<text x="183" y="176.5" fill="#ffff00" text-anchor="end">8.0</text>
<rect x="184" y="213" width="4" height="1" fill="#808080"/>
<text x="183" y="217.5" fill="#ffff00" text-anchor="end">7.0</text>
<rect x="184" y="254" width="4" height="1" fill="#808080"/>
<text x="183" y="258.5" fill="#ffff00" text-anchor="end">6.0</text>
<rect x="184" y="295" width="4" height="1" fill="#808080"/>
<text x="183" y="299.5" fill="#ffff00" text-anchor="end">5.0</text>
<rect x="184" y="336" width="4" height="1" fill="#808080"/>
<text x="183" y="340.5" fill="#ffff00" text-anchor="end">4.0</text>
<rect x="184" y="377" width="4" height="1" fill="#808080"/>
<text x="183" y="381.5" fill="#ffff00" text-anchor="end">3.0</text>
<rect x="184" y="418" width="4" height="1" fill="#808080"/>
<text x="183" y="422.5" fill="#ffff00" text-anchor="end">2.0</text>
<rect x="184" y="459" width="4" height="1" fill="#808080"/>
<text x="183" y="463.5" fill="#ffff00" text-anchor="end">1.0</text>
<rect x="184" y="500" width="4" height="1" fill="#808080"/>
<text x="183" y="504.5" fill="#ffff00" text-anchor="end">0.0</text>
<text x="157.5" y="78.8" fill="#ffff00">UV-I</text>
<rect x="648" y="90" width="5" height="1" fill="#808080"/>
<text x="654.5" y="94.5" fill="#8080ff">100</text>
<rect x="648" y="131" width="5" height="1" fill="#808080"/>
<text x="654.5" y="135.5" fill="#8080ff">90</text>
<rect x="648" y="172" width="5" height="1" fill="#808080"/>
<text x="654.5" y="176.5" fill="#8080ff">80</text>
<rect x="648" y="213" width="5" height="1" fill="#808080"/>
<text x="654.5" y="217.5" fill="#8080ff">70</text>
<rect x="648" y="254" width="5" height="1" fill="#808080"/>
<text x="654.5" y="258.5" fill="#8080ff">60</text>
<rect x="648" y="295" width="5" height="1" fill="#808080"/>
<text x="654.5" y="299.5" fill="#8080ff">50</text>
<rect x="648" y="336" width="5" height="1" fill="#808080"/>
<text x="654.5" y="340.5" fill="#8080ff">40</text>
<rect x="648" y="377" width="5" height="1" fill="#808080"/>
<text x="654.5" y="381.5" fill="#8080ff">30</text>
<rect x="648" y="418" width="5" height="1" fill="#808080"/>
<text x="654.5" y="422.5" fill="#8080ff">20</text>
<rect x="648" y="459" width="5" height="1" fill="#808080"/>
<text x="654.5" y="463.5" fill="#8080ff">10</text>
<rect x="648" y="500" width="5" height="1" fill="#808080"/>
<text x="654.5" y="504.5" fill="#8080ff">0</text>
<text x="649" y="78.8" fill="#8080ff">%</text>
<rect x="685" y="90" width="1" height="411" fill="#808080"/>
<rect x="681" y="90" width="8" height="1" fill="#808080"/>
<text x="690.5" y="94.5" fill="#ff0080">1023</text>
<rect x="685" y="127" width="5" height="1" fill="#808080"/>
<text x="690.5" y="131.5" fill="#ff0080">1022</text>
<rect x="685" y="165" width="5" height="1" fill="#808080"/>
<text x="690.5" y="169.5" fill="#ff0080">1021</text>
<rect x="685" y="202" width="5" height="1" fill="#808080"/>
<text x="690.5" y="206.5" fill="#ff0080">1020</text>
<rect x="685" y="239" width="5" height="1" fill="#808080"/>
<text x="690.5" y="243.5" fill="#ff0080">1019</text>
<rect x="685" y="276" width="5" height="1" fill="#808080"/>
<text x="690.5" y="280.5" fill="#ff0080">1018</text>
<rect x="685" y="314" width="5" height="1" fill="#808080"/>
<text x="690.5" y="318.5" fill="#ff0080">1017</text>
<rect x="685" y="351" width="5" height="1" fill="#808080"/>
<text x="690.5" y="355.5" fill="#ff0080">1016</text>
<rect x="685" y="388" width="5" height="1" fill="#808080"/>
<text x="690.5" y="392.5" fill="#ff0080">1015</text>
<rect x="685" y="425" width="5" height="1" fill="#808080"/>
<text x="690.5" y="429.5" fill="#ff0080">1014</text>
<rect x="685" y="463" width="5" height="1" fill="#808080"/>
<text x="690.5" y="467.5" fill="#ff0080">1013</text>
<rect x="681" y="500" width="8" height="1" fill="#808080"/>
<text x="690.5" y="504.5" fill="#ff0080">1012</text>
<text x="685.5" y="78.8" fill="#ff0080">hPa</text>
<rect x="722" y="90" width="1" height="411" fill="#808080"/>
<rect x="718" y="90" width="8" height="1" fill="#808080"/>
<text x="728" y="94.5" fill="#000000">60.0</text>
<rect x="722" y="124" width="5" height="1" fill="#808080"/>
<text x="728" y="128.5" fill="#000000">55.0</text>
<rect x="722" y="158" width="5" height="1" fill="#808080"/>
<text x="728" y="162.5" fill="#000000">50.0</text>
<rect x="722" y="192" width="5" height="1" fill="#808080"/>
<text x="728" y="196.5" fill="#000000">45.0</text>
<rect x="722" y="227" width="5" height="1" fill="#808080"/>
<text x="728" y="231.5" fill="#000000">40.0</text>
<rect x="722" y="261" width="5" height="1" fill="#808080"/>
<text x="728" y="265.5" fill="#000000">35.0</text>
<rect x="722" y="295" width="5" height="1" fill="#808080"/>
<text x="728" y="299.5" fill="#000000">30.0</text>
<rect x="722" y="329" width="5" height="1" fill="#808080"/>
<text x="728" y="333.5" fill="#000000">25.0</text>
<rect x="722" y="363" width="5" height="1" fill="#808080"/>
<text x="728" y="367.5" fill="#000000">20.0</text>
<rect x="722" y="398" width="5" height="1" fill="#808080"/>
<text x="728" y="402.5" fill="#000000">15.0</text>
<rect x="722" y="432" width="5" height="1" fill="#808080"/>
<text x="728" y="436.5" fill="#000000">10.0</text>
<rect x="722" y="466" width="5" height="1" fill="#808080"/>
<text x="728" y="470.5" fill="#000000">5.0</text>
<rect x="718" y="500" width="8" height="1" fill="#808080"/>
<text x="728" y="504.5" fill="#000000">0.0</text>
<text x="722.5" y="78.8" fill="#000000">km/h</text>
<rect x="759" y="90" width="1" height="411" fill="#808080"/>
<rect x="755" y="90" width="8" height="1" fill="#808080"/>
<text x="765" y="94.5" fill="#ff8000">100</text>
<rect x="759" y="131" width="5" height="1" fill="#808080"/>
<text x="765" y="135.5" fill="#ff8000">90</text>
<rect x="759" y="172" width="5" height="1" fill="#808080"/>
<text x="765" y="176.5" fill="#ff8000">80</text>
<rect x="759" y="213" width="5" height="1" fill="#808080"/>
<text x="765" y="217.5" fill="#ff8000">70</text>
<rect x="759" y="254" width="5" height="1" fill="#808080"/>
<text x="765" y="258.5" fill="#ff8000">60</text>
<rect x="759" y="295" width="5" height="1" fill="#808080"/>
<text x="765" y="299.5" fill="#ff8000">50</text>
<rect x="759" y="336" width="5" height="1" fill="#808080"/>
<text x="765" y="340.5" fill="#ff8000">40</text>
<rect x="759" y="377" width="5" height="1" fill="#808080"/>
<text x="765" y="381.5" fill="#ff8000">30</text>
<rect x="759" y="418" width="5" height="1" fill="#808080"/>
<text x="765" y="422.5" fill="#ff8000">20</text>
<rect x="759" y="459" width="5" height="1" fill="#808080"/>
<text x="765" y="463.5" fill="#ff8000">10</text>
<rect x="755" y="500" width="8" height="1" fill="#808080"/>
<text x="765" y="504.5" fill="#ff8000">0</text>
<text x="759.5" y="78.8" fill="#ff8000">min</text>
<rect x="796" y="90" width="1" height="411" fill="#808080"/>
<rect x="792" y="90" width="8" height="1" fill="#808080"/>
<text x="801.5" y="94.5" fill="#ffa878">1000</text>
<rect x="796" y="110" width="5" height="1" fill="#808080"/>
<text x="801.5" y="114.5" fill="#ffa878">950</text>
<rect x="796" y="131" width="5" height="1" fill="#808080"/>
<text x="801.5" y="135.5" fill="#ffa878">900</text>
<rect x="796" y="152" width="5" height="1" fill="#808080"/>
<text x="801.5" y="156.5" fill="#ffa878">850</text>
<rect x="796" y="172" width="5" height="1" fill="#808080"/>
<text x="801.5" y="176.5" fill="#ffa878">800</text>
<rect x="796" y="192" width="5" height="1" fill="#808080"/>
<text x="801.5" y="196.5" fill="#ffa878">750</text>
<rect x="796" y="213" width="5" height="1" fill="#808080"/>
<text x="801.5" y="217.5" fill="#ffa878">700</text>
<rect x="796" y="234" width="5" height="1" fill="#808080"/>
<text x="801.5" y="238.5" fill="#ffa878">650</text>
<rect x="796" y="254" width="5" height="1" fill="#808080"/>
<text x="801.5" y="258.5" fill="#ffa878">600</text>
<rect x="796" y="274" width="5" height="1" fill="#808080"/>
<text x="801.5" y="278.5" fill="#ffa878">550</text>
<rect x="796" y="295" width="5" height="1" fill="#808080"/>
<text x="801.5" y="299.5" fill="#ffa878">500</text>
<rect x="796" y="316" width="5" height="1" fill="#808080"/>
<text x="801.5" y="320.5" fill="#ffa878">450</text>
<rect x="796" y="336" width="5" height="1" fill="#808080"/>
<text x="801.5" y="340.5" fill="#ffa878">400</text>
<rect x="796" y="356" width="5" height="1" fill="#808080"/>
<text x="801.5" y="360.5" fill="#ffa878">350</text>
<rect x="796" y="377" width="5" height="1" fill="#808080"/>
<text x="801.5" y="381.5" fill="#ffa878">300</text>
<rect x="796" y="398" width="5" height="1" fill="#808080"/>
<text x="801.5" y="402.5" fill="#ffa878">250</text>
<rect x="796" y="418" width="5" height="1" fill="#808080"/>
<text x="801.5" y="422.5" fill="#ffa878">200</text>
<rect x="796" y="438" width="5" height="1" fill="#808080"/>
<text x="801.5" y="442.5" fill="#ffa878">150</text>
<rect x="796" y="459" width="5" height="1" fill="#808080"/>
<text x="801.5" y="463.5" fill="#ffa878">100</text>
<rect x="796" y="480" width="5" height="1" fill="#808080"/>
<text x="801.5" y="484.5" fill="#ffa878">50</text>
<rect x="792" y="500" width="8" height="1" fill="#808080"/>
<text x="801.5" y="504.5" fill="#ffa878">0</text>
<text x="796.5" y="78.8" fill="#ffa878">W/m²</text>
<rect x="291" y="500" width="2" height="9" fill="#707070"/>
<rect x="506" y="500" width="2" height="9" fill="#707070"/>
<rect x="314" y="494" width="2" height="15" fill="#ffff00"/>
<rect x="576" y="494" width="2" height="15" fill="#ffff00"/>
<text x="11" y="528.9" fill="#000" font-size="10.6">13:40</text>
<path d="M40 529 V526 L42 524 L43 523 H47 L48 524 L49 526 V529 Z" fill="#ffff00"/>
<text x="282" y="529.5" fill="#000" font-size="10.6">06:36</text>
<g stroke="#ffff80" stroke-width="1"><line x1="310" y1="526" x2="320" y2="526"/><line x1="315" y1="521" x2="315" y2="531"/><line x1="311.5" y1="522.5" x2="318.5" y2="529.5"/><line x1="318.5" y1="522.5" x2="311.5" y2="529.5"/></g>
<circle cx="315" cy="526" r="3.2" fill="#ffff00"/>
<text x="320.5" y="529.5" fill="#000" font-size="10.6">4</text>
<path d="M505 520 h3 v2 h2.5 l-3.3 6.5 h-1.4 l-3.3 -6.5 h2.5 z" fill="#ffff00"/>
<g fill="#3030c0"><rect x="502" y="522" width="1" height="1"/><rect x="503" y="525" width="1" height="1"/><rect x="506.5" y="527.5" width="1" height="1"/><rect x="509" y="527" width="3" height="1" fill="#a0a0f0"/><rect x="512" y="527" width="1" height="1"/></g>
<svg x="514" y="518" width="22.5" height="14" overflow="hidden"><text x="0.5" y="11.5" fill="#000" font-size="10.6">16:38</text></svg>
<text x="543.5" y="529.5" fill="#000" font-size="10.6">20:16</text>
<rect x="574.5" y="523.5" width="5" height="5" fill="none" stroke="#ffff80"/>
<rect x="1" y="534" width="834" height="86" fill="#c0c0c0"/>
<rect x="1" y="534" width="834" height="1" fill="#b6b6b6"/>
<rect x="1" y="534" width="1" height="86" fill="#b6b6b6"/>
<rect x="87" y="534" width="1" height="86" fill="#ffffff"/>
<rect x="88" y="534" width="1" height="86" fill="#a0a0a0"/>
<rect x="204" y="534" width="1" height="86" fill="#ffffff"/>
<rect x="205" y="534" width="1" height="86" fill="#a0a0a0"/>
<rect x="322" y="534" width="1" height="86" fill="#ffffff"/>
<rect x="323" y="534" width="1" height="86" fill="#a0a0a0"/>
<rect x="440" y="534" width="1" height="86" fill="#ffffff"/>
<rect x="441" y="534" width="1" height="86" fill="#a0a0a0"/>
<rect x="558" y="534" width="1" height="86" fill="#ffffff"/>
<rect x="559" y="534" width="1" height="86" fill="#a0a0a0"/>
<rect x="676" y="534" width="1" height="86" fill="#ffffff"/>
<rect x="677" y="534" width="1" height="86" fill="#a0a0a0"/>
<rect x="794" y="534" width="1" height="86" fill="#ffffff"/>
<rect x="795" y="534" width="1" height="86" fill="#a0a0a0"/>
<text x="8.3" y="552" fill="#000" font-weight="bold" textLength="39.6" lengthAdjust="spacingAndGlyphs">Sensor</text>
<text x="8.3" y="568" fill="#000" font-weight="bold" textLength="47.5" lengthAdjust="spacingAndGlyphs">MinWert</text>
<text x="8.3" y="584" fill="#000" font-weight="bold" textLength="50.4" lengthAdjust="spacingAndGlyphs">MaxWert</text>
<text x="8.3" y="600" fill="#000" font-weight="bold" textLength="72.5" lengthAdjust="spacingAndGlyphs">Durchschnitt</text>
<text x="8.3" y="615.6" fill="#000" font-weight="bold" textLength="72.5" lengthAdjust="spacingAndGlyphs">14.04. 23:55</text>
<text x="94.6" y="552" fill="#000" font-weight="bold" textLength="64.3" lengthAdjust="spacingAndGlyphs">T- 2m aktiv</text>
<text x="185.2" y="552" fill="#000" font-weight="bold" textLength="13.8" lengthAdjust="spacingAndGlyphs">°C</text>
<text x="99.8" y="568" fill="#000" textLength="28.4" lengthAdjust="spacingAndGlyphs">05:35</text>
<text x="183.1" y="568" fill="#000" textLength="15.9" lengthAdjust="spacingAndGlyphs">9.0</text>
<text x="99.8" y="584" fill="#000" textLength="28.4" lengthAdjust="spacingAndGlyphs">15:50</text>
<text x="176.9" y="584" fill="#000" textLength="22.1" lengthAdjust="spacingAndGlyphs">16.8</text>
<text x="99.8" y="600" fill="#000" textLength="40.7" lengthAdjust="spacingAndGlyphs">(+ 0.32 )</text>
<text x="171.0" y="600" fill="#000" textLength="28.0" lengthAdjust="spacingAndGlyphs">11.63</text>
<text x="180.2" y="615.6" fill="#000" font-weight="bold" textLength="18.8" lengthAdjust="spacingAndGlyphs">9.2</text>
<text x="211.8" y="552" fill="#000" font-weight="bold" textLength="64.1" lengthAdjust="spacingAndGlyphs">F- 2m aktiv</text>
<text x="307.5" y="552" fill="#000" font-weight="bold" textLength="9.3" lengthAdjust="spacingAndGlyphs">%</text>
<text x="217.9" y="568" fill="#000" textLength="28.0" lengthAdjust="spacingAndGlyphs">16:55</text>
<text x="304.1" y="568" fill="#000" textLength="12.7" lengthAdjust="spacingAndGlyphs">49</text>
<text x="217.9" y="584" fill="#000" textLength="28.0" lengthAdjust="spacingAndGlyphs">00:00</text>
<text x="304.1" y="584" fill="#000" textLength="12.7" lengthAdjust="spacingAndGlyphs">88</text>
<text x="304.1" y="600" fill="#000" textLength="12.7" lengthAdjust="spacingAndGlyphs">74</text>
<text x="214.9" y="615.6" fill="#000" textLength="46.8" lengthAdjust="spacingAndGlyphs">7.23 g/m³</text>
<text x="302.2" y="615.6" fill="#000" font-weight="bold" textLength="13.3" lengthAdjust="spacingAndGlyphs">81</text>
<text x="329.8" y="552" fill="#000" font-weight="bold" textLength="54.5" lengthAdjust="spacingAndGlyphs">Luftdruck</text>
<text x="412.3" y="552" fill="#000" font-weight="bold" textLength="22.8" lengthAdjust="spacingAndGlyphs">hPa</text>
<text x="335.9" y="568" fill="#000" textLength="28.0" lengthAdjust="spacingAndGlyphs">00:00</text>
<text x="401.0" y="568" fill="#000" textLength="34.1" lengthAdjust="spacingAndGlyphs">1012.6</text>
<text x="335.9" y="584" fill="#000" textLength="28.0" lengthAdjust="spacingAndGlyphs">23:45</text>
<text x="401.0" y="584" fill="#000" textLength="34.1" lengthAdjust="spacingAndGlyphs">1021.8</text>
<text x="330.2" y="600" fill="#000" textLength="51.5" lengthAdjust="spacingAndGlyphs">^1.0hPa/h</text>
<text x="401.0" y="600" fill="#000" textLength="34.1" lengthAdjust="spacingAndGlyphs">1017.7</text>
<text x="329.8" y="615.6" fill="#000" textLength="32.1" lengthAdjust="spacingAndGlyphs">sonnig</text>
<text x="395.4" y="615.6" fill="#000" font-weight="bold" textLength="39.7" lengthAdjust="spacingAndGlyphs">1021.6</text>
<text x="447.8" y="552" fill="#000" font-weight="bold" textLength="58.1" lengthAdjust="spacingAndGlyphs">Windböen</text>
<text x="522.9" y="552" fill="#000" font-weight="bold" textLength="30.2" lengthAdjust="spacingAndGlyphs">km/h</text>
<text x="447.8" y="568" fill="#000" textLength="45.3" lengthAdjust="spacingAndGlyphs">Ø 10 min.</text>
<text x="536.9" y="568" fill="#000" textLength="16.2" lengthAdjust="spacingAndGlyphs">0.0</text>
<text x="453.9" y="584" fill="#000" textLength="28.0" lengthAdjust="spacingAndGlyphs">08:45</text>
<text x="497.6" y="584" fill="#000" textLength="55.5" lengthAdjust="spacingAndGlyphs">N-NW 12.9</text>
<text x="536.9" y="600" fill="#000" textLength="16.2" lengthAdjust="spacingAndGlyphs">4.2</text>
<text x="453.9" y="615.6" fill="#000" textLength="33.3" lengthAdjust="spacingAndGlyphs">0 Bft N</text>
<text x="533.9" y="615.6" fill="#000" font-weight="bold" textLength="19.2" lengthAdjust="spacingAndGlyphs">0.0</text>
<text x="565.8" y="552" fill="#000" font-weight="bold" textLength="38.3" lengthAdjust="spacingAndGlyphs">Regen</text>
<text x="648.3" y="552" fill="#000" font-weight="bold" textLength="22.8" lengthAdjust="spacingAndGlyphs">l/m²</text>
<text x="565.8" y="568" fill="#000" textLength="34.4" lengthAdjust="spacingAndGlyphs">25 min.</text>
<text x="571.9" y="584" fill="#000" textLength="28.0" lengthAdjust="spacingAndGlyphs">00:00</text>
<text x="654.9" y="584" fill="#000" textLength="16.2" lengthAdjust="spacingAndGlyphs">0.0</text>
<text x="565.8" y="600" fill="#000" textLength="39.4" lengthAdjust="spacingAndGlyphs">Gesamt:</text>
<text x="654.9" y="600" fill="#000" textLength="16.2" lengthAdjust="spacingAndGlyphs">0.0</text>
<text x="568.9" y="615.6" fill="#000" textLength="36.9" lengthAdjust="spacingAndGlyphs">0.0 l/m²</text>
<text x="651.9" y="615.6" fill="#000" font-weight="bold" textLength="19.2" lengthAdjust="spacingAndGlyphs">0.0</text>
<text x="683.8" y="552" fill="#000" font-weight="bold" textLength="57.8" lengthAdjust="spacingAndGlyphs">PMV+1:11</text>
<text x="683.8" y="568" fill="#000" textLength="51.0" lengthAdjust="spacingAndGlyphs">WC 9.2 °C</text>
<text x="683.8" y="584" fill="#000" textLength="47.0" lengthAdjust="spacingAndGlyphs">TP 6.1 °C</text>
<text x="683.8" y="600" fill="#000" textLength="52.3" lengthAdjust="spacingAndGlyphs">0.9hPa/3h</text>
<text x="683.8" y="615.6" fill="#000" textLength="52.3" lengthAdjust="spacingAndGlyphs">0.2hPa/1h</text>
</svg>
</body></html>
